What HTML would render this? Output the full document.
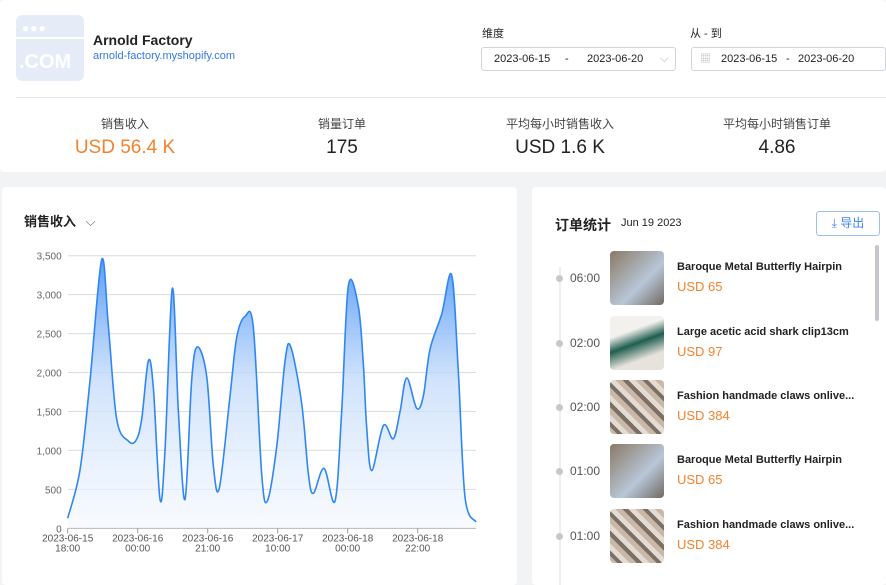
<!DOCTYPE html>
<html><head><meta charset="utf-8">
<style>
*{box-sizing:border-box;margin:0;padding:0}
body{width:886px;height:585px;overflow:hidden;background:#f2f3f5;font-family:"Liberation Sans","Noto Sans CJK SC",sans-serif;color:#222;position:relative}
.card{position:absolute;background:#fff;border-radius:4px}
.abs{position:absolute}
.lbl{font-size:12px;color:#444;text-align:center;width:200px}
.val{font-size:19px;text-align:center;width:200px;color:#222}
.inp{position:absolute;height:24px;border:1px solid #d0d4dc;border-radius:3px;font-size:11px;color:#222;line-height:22px}
.row{position:absolute;left:0;width:354px;height:60px}
.thumb{position:absolute;left:78px;width:54px;height:54px;border-radius:4px}
.t{position:absolute;left:38px;font-size:12px;color:#555}
.dot{position:absolute;left:24px;width:7px;height:7px;border-radius:50%;background:#c8c8cc}
.nm{position:absolute;left:145px;font-size:11px;font-weight:bold;color:#222;white-space:nowrap}
.pr{position:absolute;left:145px;font-size:13px;color:#f5822a}
</style></head><body>
<div class="card" style="left:0;top:0;width:886px;height:172px">
  <div class="abs" style="left:16px;top:15px;width:68px;height:66px;background:#e6ecf7;border-radius:6px;overflow:hidden">
    <div style="position:absolute;left:0;top:22px;width:68px;height:2px;background:#fff"></div>
    <div style="position:absolute;left:6px;top:6px;color:#fff;font-size:12px;letter-spacing:1px">●●●</div>
    <div style="position:absolute;left:3px;top:36px;color:#fff;font-size:20px;font-weight:bold">.COM</div>
  </div>
  <div class="abs" style="left:93px;top:32px;font-size:14px;font-weight:bold">Arnold Factory</div>
  <div class="abs" style="left:93px;top:50px;font-size:11px;color:#3377ee">arnold-factory.myshopify.com</div>
  <div class="abs" style="left:482px;top:25px;font-size:11px">维度</div>
  <div class="inp" style="left:481px;top:47px;width:195px"><span style="position:absolute;left:12px">2023-06-15</span><span style="position:absolute;left:83px">-</span><span style="position:absolute;left:105px">2023-06-20</span><span style="position:absolute;left:178px;color:#aaa">⌵</span></div>
  <div class="abs" style="left:690px;top:25px;font-size:11px">从 - 到</div>
  <div class="inp" style="left:691px;top:47px;width:195px"><span style="position:absolute;left:8px;color:#bbb">▦</span><span style="position:absolute;left:29px">2023-06-15</span><span style="position:absolute;left:94px">-</span><span style="position:absolute;left:106px">2023-06-20</span></div>
  <div class="abs" style="left:16px;top:97px;width:870px;height:1px;background:#e4e6ea"></div>
  <div class="abs lbl" style="left:25px;top:115px">销售收入</div>
  <div class="abs val" style="left:25px;top:137px;color:#f5822a">USD 56.4 K</div>
  <div class="abs lbl" style="left:242px;top:115px">销量订单</div>
  <div class="abs val" style="left:242px;top:137px">175</div>
  <div class="abs lbl" style="left:460px;top:115px">平均每小时销售收入</div>
  <div class="abs val" style="left:460px;top:137px">USD 1.6 K</div>
  <div class="abs lbl" style="left:677px;top:115px">平均每小时销售订单</div>
  <div class="abs val" style="left:677px;top:137px">4.86</div>
</div>

<div class="card" style="left:2px;top:187px;width:515px;height:398px">
  <div class="abs" style="left:22px;top:24px;font-size:13px;font-weight:bold">销售收入 <span style="font-weight:normal;color:#666;margin-left:6px">⌵</span></div>
</div>
<svg class="abs" style="left:0;top:0" width="886" height="585" id="chart">
  <defs><linearGradient id="g" x1="0" y1="0" x2="0" y2="1">
    <stop offset="0" stop-color="#4a94f5" stop-opacity="0.9"/>
    <stop offset="0.45" stop-color="#c5dcfb" stop-opacity="0.8"/>
    <stop offset="1" stop-color="#f4f8fe" stop-opacity="0.6"/>
  </linearGradient></defs>
</svg>

<div class="card" style="left:532px;top:187px;width:354px;height:398px;overflow:hidden">
  <div class="abs" style="left:23px;top:28px;font-size:14px;font-weight:bold">订单统计</div>
  <div class="abs" style="left:89px;top:30px;font-size:11px">Jun 19 2023</div>
  <div class="abs" style="left:284px;top:24px;width:64px;height:25px;border:1px solid #9cc0f5;border-radius:3px;color:#3a86f0;font-size:12px;line-height:23px;text-align:center">⤓ 导出</div>
  <div class="abs" style="left:27px;top:80px;width:2px;height:330px;background:#eee"></div>
  <div class="abs" style="left:343px;top:58px;width:4px;height:76px;background:#c4c6cc;border-radius:2px"></div>
  <div class="row" style="top:64px"><div class="dot" style="top:24px"></div><div class="t" style="top:20px">06:00</div><div class="thumb" style="background:linear-gradient(135deg,#8a7a66,#b8c6d8 60%,#6f6a60)"></div><div class="nm" style="top:10px">Baroque Metal Butterfly Hairpin</div><div class="pr" style="top:28px">USD 65</div></div>
  <div class="row" style="top:129px"><div class="dot" style="top:24px"></div><div class="t" style="top:20px">02:00</div><div class="thumb" style="background:linear-gradient(160deg,#f3f1ee 30%,#1f5e4f 50%,#e8e2dc 75%)"></div><div class="nm" style="top:10px">Large acetic acid shark clip13cm</div><div class="pr" style="top:28px">USD 97</div></div>
  <div class="row" style="top:193px"><div class="dot" style="top:24px"></div><div class="t" style="top:20px">02:00</div><div class="thumb" style="background:repeating-linear-gradient(45deg,#c9b8a8 0 5px,#7c6f66 5px 9px,#e4dcd2 9px 14px)"></div><div class="nm" style="top:10px">Fashion handmade claws onlive...</div><div class="pr" style="top:28px">USD 384</div></div>
  <div class="row" style="top:257px"><div class="dot" style="top:24px"></div><div class="t" style="top:20px">01:00</div><div class="thumb" style="background:linear-gradient(135deg,#8a7a66,#b8c6d8 60%,#6f6a60)"></div><div class="nm" style="top:10px">Baroque Metal Butterfly Hairpin</div><div class="pr" style="top:28px">USD 65</div></div>
  <div class="row" style="top:322px"><div class="dot" style="top:24px"></div><div class="t" style="top:20px">01:00</div><div class="thumb" style="background:repeating-linear-gradient(45deg,#c9b8a8 0 5px,#7c6f66 5px 9px,#e4dcd2 9px 14px)"></div><div class="nm" style="top:10px">Fashion handmade claws onlive...</div><div class="pr" style="top:28px">USD 384</div></div>
</div>

<script>
const yTicks=[0,500,1000,1500,2000,2500,3000,3500];
const xLabels=[["2023-06-15","18:00"],["2023-06-16","00:00"],["2023-06-16","21:00"],["2023-06-17","10:00"],["2023-06-18","00:00"],["2023-06-18","22:00"]];
const xPos=[0,0.176,0.319,0.486,0.581,0.7,0.867,0.976,1.057,1.152,1.224,1.319,1.39,1.495,1.581,1.676,1.771,1.852,1.986,2.081,2.167,2.319,2.414,2.533,2.652,2.771,2.852,2.986,3.105,3.186,3.343,3.438,3.51,3.662,3.819,3.914,4.01,4.152,4.224,4.271,4.343,4.51,4.652,4.748,4.843,4.986,5.081,5.176,5.343,5.486,5.581,5.676,5.833];
const values=[130,750,1900,3450,2600,1400,1120,1130,1400,2150,1800,370,1000,3080,1500,370,1900,2330,1950,800,520,1700,2450,2720,2580,700,350,1050,2150,2330,1600,700,450,770,350,1500,3120,2850,2100,1300,740,1320,1150,1500,1930,1540,1700,2300,2750,3250,2000,400,80];
const svg=document.getElementById('chart');const NS='http://www.w3.org/2000/svg';
const X0=67.7,X1=476,Y0=528.3,Y1=255.7,step=70;
const xs=v=>X0+v*step, ys=v=>Y0-(v/3500)*(Y0-Y1);
function mk(t,a){const e=document.createElementNS(NS,t);for(const k in a)e.setAttribute(k,a[k]);svg.appendChild(e);return e;}
yTicks.forEach(t=>{
  const l=mk('line',{x1:X0,x2:X1,y1:ys(t),y2:ys(t),stroke:t?'#dcdcdc':'#999','stroke-width':1});
  
  
  const tx=mk('text',{x:X0-6,y:ys(t)+4,'text-anchor':'end','font-size':10,fill:'#666','font-family':'Liberation Sans'});tx.textContent=t.toLocaleString('en-US');
  
  
});
xLabels.forEach((lb,i)=>{
  const x=xs(i);
  mk('line',{x1:x,x2:x,y1:Y0,y2:Y0+5,stroke:'#999'});
  lb.forEach((s,j)=>{const tx=mk('text',{x:x,y:Y0+13+j*10,'text-anchor':'middle','font-size':10,fill:'#555','font-family':'Liberation Sans'});tx.textContent=s;
  
  });
});
const n=Math.min(values.length,xPos.length);
const pts=values.slice(0,n).map((v,i)=>[Math.min(X1,xs(xPos[i])),ys(v)]);
let d=`M${pts[0][0]},${pts[0][1]}`;
for(let i=0;i<pts.length-1;i++){const p0=pts[i-1]||pts[i],p1=pts[i],p2=pts[i+1],p3=pts[i+2]||p2;
  d+=` C${p1[0]+(p2[0]-p0[0])/6},${p1[1]+(p2[1]-p0[1])/6} ${p2[0]-(p3[0]-p1[0])/6},${p2[1]-(p3[1]-p1[1])/6} ${p2[0]},${p2[1]}`;}
const area=mk('path',{d:d+` L${pts[pts.length-1][0]},${Y0} L${pts[0][0]},${Y0} Z`,fill:'url(#g)'});


const line=mk('path',{d:d,fill:'none',stroke:'#2f86f6','stroke-width':1.6});


</script>
</body></html>
